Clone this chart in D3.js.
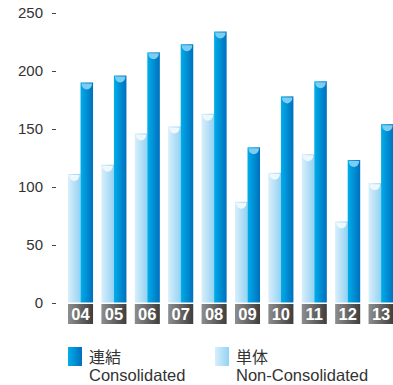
<!DOCTYPE html>
<html>
<head>
<meta charset="utf-8">
<script src="https://cdn.jsdelivr.net/npm/d3@7"></script>
<style>
  body { margin: 0; background: #fff; }
  svg { display: block; font-family: "Liberation Sans", Arial, "Noto Sans CJK JP", sans-serif; }
</style>
</head>
<body>
<div id="chart"></div>
<script>
const years = ["04", "05", "06", "07", "08", "09", "10", "11", "12", "13"];
const nonConsolidated = [111, 119, 146, 152, 163, 87, 112, 128, 70, 103];
const consolidated = [190, 196, 216, 223, 234, 134, 178, 191, 123, 154];
const yTicks = [0, 50, 100, 150, 200, 250];
const seriesKeys = ["single", "consol"];

const width = 393;
const height = 385;

const svg = d3.select("#chart")
  .append("svg")
  .attr("width", width)
  .attr("height", height);

const defs = svg.append("defs");

function hGradient(id, from, to) {
  const g = defs.append("linearGradient")
    .attr("id", id)
    .attr("x1", "0%").attr("x2", "100%")
    .attr("y1", "0%").attr("y2", "0%");
  g.append("stop").attr("offset", "0%").attr("stop-color", from);
  g.append("stop").attr("offset", "100%").attr("stop-color", to);
}
hGradient("gradConsol", "#00aeea", "#006fbd");
hGradient("gradSingle", "#d8effb", "#94d2f3");
hGradient("gradLabel", "#8e8e8e", "#3e3e3e");

const x = d3.scaleBand()
  .domain(years)
  .range([68, 393.6])
  .paddingInner(0.25)
  .paddingOuter(0);

const xInner = d3.scaleBand()
  .domain(seriesKeys)
  .range([0, x.bandwidth()])
  .padding(0);

const y = d3.scaleLinear()
  .domain([0, 250])
  .range([302.5, 13]);

// y axis: right-aligned numbers with a small dash
const yAxis = svg.append("g");
yAxis.selectAll("text")
  .data(yTicks)
  .join("text")
  .attr("x", 43)
  .attr("y", d => y(d))
  .attr("dy", "0.36em")
  .attr("text-anchor", "end")
  .attr("font-size", 15)
  .attr("fill", "#333")
  .text(d => d);
yAxis.selectAll("line")
  .data(yTicks)
  .join("line")
  .attr("x1", 52)
  .attr("x2", 56)
  .attr("y1", d => Math.round(y(d)) + 0.5)
  .attr("y2", d => Math.round(y(d)) + 0.5)
  .attr("stroke", "#444")
  .attr("stroke-width", 1);

const rows = years.map((yr, i) => ({
  year: yr,
  values: [
    { key: "single", value: nonConsolidated[i] },
    { key: "consol", value: consolidated[i] }
  ]
}));

const groups = svg.append("g")
  .selectAll("g")
  .data(rows)
  .join("g")
  .attr("transform", d => `translate(${x(d.year)},0)`);

const bars = groups.selectAll("g.bar")
  .data(d => d.values)
  .join("g")
  .attr("class", "bar");

bars.append("rect")
  .attr("x", d => xInner(d.key))
  .attr("y", d => y(d.value))
  .attr("width", xInner.bandwidth())
  .attr("height", d => y(0) - y(d.value))
  .attr("fill", d => d.key === "consol" ? "url(#gradConsol)" : "url(#gradSingle)");

// cup-shaped highlight on each bar top
bars.append("path")
  .attr("d", d => {
    const x0 = xInner(d.key) + 1;
    const x1 = xInner(d.key) + xInner.bandwidth() - 1;
    const top = y(d.value) + 1;
    const rx = (x1 - x0) / 2;
    return `M${x1},${top} A${rx},6 0 0 1 ${x0},${top} Z`;
  })
  .attr("fill", d => d.key === "consol" ? "#7dcdf3" : "#eef8fd");

// year label boxes
groups.append("rect")
  .attr("x", 0)
  .attr("y", 304)
  .attr("width", x.bandwidth())
  .attr("height", 20)
  .attr("fill", "url(#gradLabel)");

groups.append("text")
  .attr("x", x.bandwidth() / 2)
  .attr("y", 319.5)
  .attr("text-anchor", "middle")
  .attr("font-size", 16.5)
  .attr("font-weight", "bold")
  .attr("fill", "#fff")
  .text(d => d.year);

// legend
const legendItems = [
  { x: 68, fill: "url(#gradConsol)", jp: "連結", en: "Consolidated" },
  { x: 215, fill: "url(#gradSingle)", jp: "単体", en: "Non-Consolidated" }
];
const legend = svg.append("g")
  .selectAll("g")
  .data(legendItems)
  .join("g")
  .attr("transform", d => `translate(${d.x},0)`);

legend.append("rect")
  .attr("x", 0)
  .attr("y", 347)
  .attr("width", 14)
  .attr("height", 19)
  .attr("fill", d => d.fill);

legend.append("text")
  .attr("x", 21)
  .attr("y", 363)
  .attr("font-size", 16)
  .attr("font-family", "'Noto Sans CJK JP', sans-serif")
  .attr("fill", "#333")
  .text(d => d.jp);

legend.append("text")
  .attr("x", 21)
  .attr("y", 381)
  .attr("font-size", 16.5)
  .attr("fill", "#333")
  .text(d => d.en);
</script>
</body>
</html>
